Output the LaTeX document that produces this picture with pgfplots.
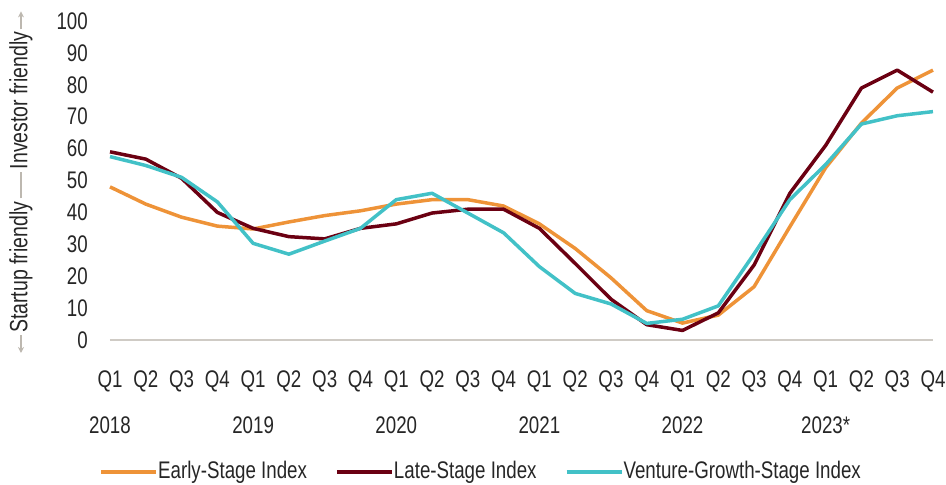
\documentclass[border=0pt]{standalone}
\usepackage{fontspec}
\setmainfont{Liberation Sans}[FakeStretch=0.78]
\usepackage{pgfplots}
\pgfplotsset{compat=1.18}
\usetikzlibrary{arrows.meta}
\definecolor{early}{HTML}{EE9338}
\definecolor{late}{HTML}{6B0012}
\definecolor{vg}{HTML}{42C1C7}
\definecolor{agray}{HTML}{BDB8B0}
\definecolor{tgray}{HTML}{262626}
\definecolor{axgray}{HTML}{CFCBC5}
\begin{document}
\fontsize{24pt}{28pt}\selectfont
\begin{tikzpicture}[font=\fontsize{24pt}{28pt}\selectfont, text=tgray]
\path[use as bounding box] (-110pt,-145pt) rectangle (836pt,340pt);
\begin{axis}[
  at={(0,0)}, anchor=south west,
  scale only axis, width=823pt, height=319pt,
  xmin=0, xmax=23, ymin=0, ymax=100,
  axis x line=bottom, axis y line=left,
  x axis line style={-, draw=axgray, line width=1.5pt},
  y axis line style={draw=none},
  major tick length=0pt,
  ytick={0,10,...,100},
  xtick={0,...,23},
  xticklabels={Q1,Q2,Q3,Q4,Q1,Q2,Q3,Q4,Q1,Q2,Q3,Q4,Q1,Q2,Q3,Q4,Q1,Q2,Q3,Q4,Q1,Q2,Q3,Q4},
  /pgf/number format/assume math mode=true,
  ticklabel style={text=tgray, font=\fontsize{24pt}{28pt}\selectfont},
  yticklabel style={xshift=-14pt},
  xticklabel style={yshift=-23pt},
  clip=false,
  legend columns=3,
  legend style={at={(0.4508,-0.414)}, anchor=center, draw=none, fill=none,
    font=\fontsize{24pt}{28pt}\selectfont, text=tgray,
    /tikz/every even column/.append style={column sep=26pt},
    /tikz/every odd column/.append style={column sep=-2pt}},
  legend image code/.code={\draw[#1, line width=4pt] (0pt,0pt) -- (55pt,0pt);},
  every axis plot/.append style={line width=3.5pt, line join=round},
]
\addplot[early, mark=none] coordinates {
(0,48) (1,42.6) (2,38.5) (3,35.7) (4,34.8) (5,37) (6,39) (7,40.5) (8,42.6) (9,44) (10,44) (11,42)
(12,36.4) (13,28.7) (14,19.5) (15,9.2) (16,5.3) (17,7.8) (18,16.7) (19,35.5) (20,54) (21,68) (22,79) (23,84.6)};
\addlegendentry{Early-Stage Index}
\addplot[late, mark=none] coordinates {
(0,59) (1,56.7) (2,50.7) (3,40) (4,35) (5,32.4) (6,31.7) (7,35) (8,36.4) (9,39.8) (10,41) (11,41)
(12,35) (13,24) (14,12.8) (15,4.8) (16,3) (17,8.5) (18,23.5) (19,46) (20,61) (21,79) (22,84.6) (23,77.7)};
\addlegendentry{Late-Stage Index}
\addplot[vg, mark=none] coordinates {
(0,57.5) (1,54.7) (2,51) (3,43.3) (4,30.3) (5,26.9) (6,31) (7,35) (8,44) (9,46) (10,39.8) (11,33.6)
(12,23) (13,14.6) (14,11.3) (15,5.2) (16,6.5) (17,10.7) (18,27) (19,44) (20,55) (21,67.7) (22,70.3) (23,71.6)};
\addlegendentry{Venture-Growth-Stage Index}
\node[text=tgray] at (axis cs:0,0) [yshift=-85pt] {2018};
\node[text=tgray] at (axis cs:4,0) [yshift=-85pt] {2019};
\node[text=tgray] at (axis cs:8,0) [yshift=-85pt] {2020};
\node[text=tgray] at (axis cs:12,0) [yshift=-85pt] {2021};
\node[text=tgray] at (axis cs:16,0) [yshift=-85pt] {2022};
\node[text=tgray] at (axis cs:20,0) [yshift=-85pt] {2023*};
\end{axis}
\begin{scope}[shift={(-89pt,0pt)}, rotate=90, transform shape, font=\fontsize{25pt}{29pt}\selectfont]
 \draw[agray, line width=1.2pt, -{Stealth[length=6pt,width=6pt]}] (5pt,0) -- (-13pt,0);
 \node[anchor=west, inner sep=0pt, text=tgray] (s) at (7pt,0) {Startup friendly};
 \draw[agray, line width=1.2pt] ([xshift=3pt]s.east) -- ++(26pt,0) coordinate (d);
 \node[anchor=west, inner sep=0pt, text=tgray] (i) at ([xshift=3pt]d) {Investor friendly};
 \draw[agray, line width=1.2pt, -{Stealth[length=6pt,width=6pt]}] ([xshift=2pt]i.east) -- ++(18pt,0);
\end{scope}
\end{tikzpicture}
\end{document}
